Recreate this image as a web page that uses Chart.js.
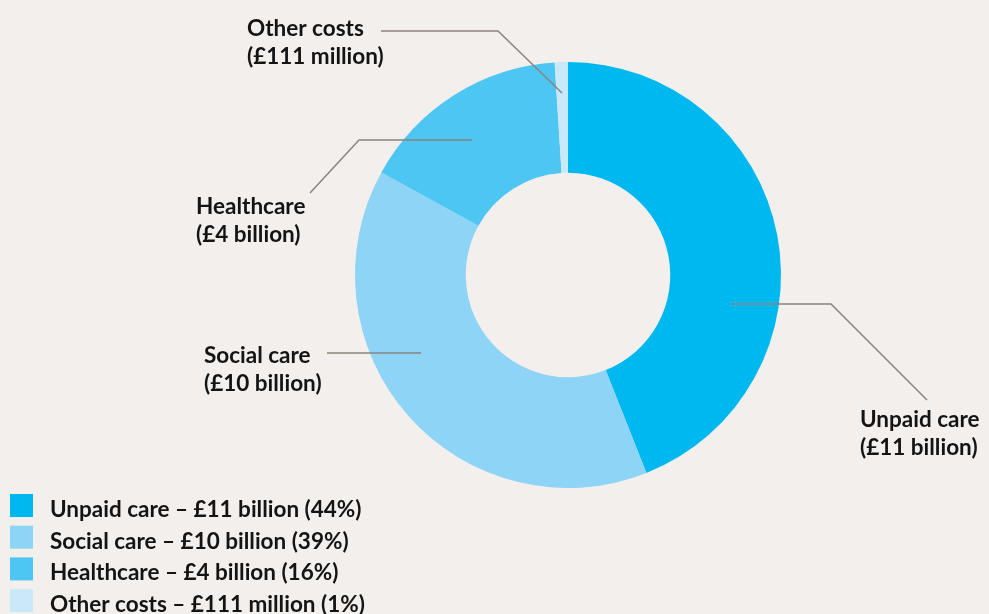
<!DOCTYPE html>
<html>
<head>
<meta charset="utf-8">
<script src="https://cdn.jsdelivr.net/npm/chart.js@4.4.1/dist/chart.umd.min.js"></script>
<style>
    html, body { margin: 0; padding: 0; background: #f2efec; }
    .chart-wrap { position: relative; width: 989px; height: 614px; }
</style>
</head>
<body>
<div class="chart-wrap"><canvas id="costChart"></canvas></div>
<script>
const categories = ['Unpaid care', 'Social care', 'Healthcare', 'Other costs'];
const amountLabels = ['£11 billion', '£10 billion', '£4 billion', '£111 million'];
const shares = [44, 39, 16, 1];
const sliceColors = ['#00b8f0', '#8dd4f6', '#4ec6f3', '#c9e9f9'];

const FONT = 'bold 22.5px Lato, "Open Sans", sans-serif';
const TEXT_COLOR = '#141414';
const LINE_COLOR = '#8a837e';

// leader lines, offsets from the doughnut centre (px)
const leaders = [
    { pts: [[164, 29], [263, 29], [359, 125]], label: [292, 152] },
    { pts: [[-147, 78], [-241, 78]], label: [-364, 88] },
    { pts: [[-96, -135], [-209, -135], [-258, -82]], label: [-372, -61] },
    { pts: [[-6, -182], [-70, -244], [-187, -244]], label: [-321, -239] }
];

const calloutPlugin = {
    id: 'callouts',
    afterDraw(chart) {
        const ctx = chart.ctx;
        const arc = chart.getDatasetMeta(0).data[0];
        const cx = arc.x, cy = arc.y;
        ctx.save();
        ctx.strokeStyle = LINE_COLOR;
        ctx.lineWidth = 1.5;
        leaders.forEach((l, i) => {
            ctx.beginPath();
            l.pts.forEach((p, j) => {
                if (j === 0) ctx.moveTo(cx + p[0], cy + p[1]);
                else ctx.lineTo(cx + p[0], cy + p[1]);
            });
            ctx.stroke();
            ctx.font = FONT;
            ctx.fillStyle = TEXT_COLOR;
            ctx.textAlign = 'left';
            ctx.textBaseline = 'alphabetic';
            ctx.fillText(categories[i], cx + l.label[0], cy + l.label[1]);
            ctx.fillText('(' + amountLabels[i] + ')', cx + l.label[0], cy + l.label[1] + 28);
        });

        // legend, bottom left
        categories.forEach((c, i) => {
            const base = 517 + i * 31.7;
            ctx.fillStyle = sliceColors[i];
            ctx.fillRect(10, base - 23, 23, 23);
            ctx.fillStyle = TEXT_COLOR;
            ctx.font = FONT;
            ctx.fillText(c + ' – ' + amountLabels[i] + ' (' + shares[i] + '%)', 50, base);
        });
        ctx.restore();
    }
};

new Chart(document.getElementById('costChart').getContext('2d'), {
    type: 'doughnut',
    data: {
        labels: categories,
        datasets: [{
            data: shares,
            backgroundColor: sliceColors,
            borderWidth: 0,
            hoverOffset: 0
        }]
    },
    options: {
        responsive: true,
        maintainAspectRatio: false,
        animation: false,
        cutout: '48%',
        layout: { padding: { left: 355, right: 208, top: 62, bottom: 126 } },
        plugins: {
            legend: { display: false },
            tooltip: { enabled: false }
        }
    },
    plugins: [calloutPlugin]
});
</script>
</body>
</html>
